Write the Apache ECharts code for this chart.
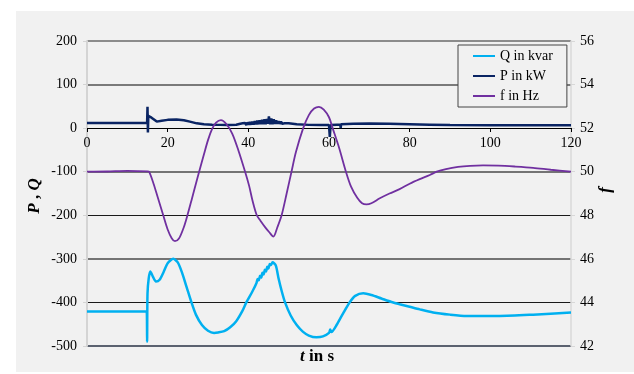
<!DOCTYPE html>
<html>
<head>
<meta charset="utf-8">
<script src="https://cdn.jsdelivr.net/npm/echarts@6/dist/echarts.min.js"></script>
<style>
html,body{margin:0;padding:0;background:#fff;}
#bg{position:absolute;left:16px;top:11px;width:618px;height:361px;background:#f1f1f1;}
#chart{position:absolute;left:0;top:0;width:634px;height:374px;}
</style>
</head>
<body>
<div id="bg"></div>
<div id="chart"></div>
<script>
// ---- data ----
var xTicks = [0, 20, 40, 60, 80, 100, 120];
var leftTicks = [-500, -400, -300, -200, -100, 0, 100, 200];
var rightTicks = [42, 44, 46, 48, 50, 52, 54, 56];

var fTime = [0, 5, 10, 15, 15.4, 16.5, 17.5, 18.9, 20, 21, 21.8, 22.8, 24, 24.9, 26, 27, 27.8, 29, 30, 31, 32, 33.2, 34.5, 36, 37.5, 39.2, 40.2, 41, 42.1, 43, 44.1, 45.2, 46.2, 47.2, 48.25, 49.5, 50.7, 51.8, 53.6, 55, 56.3, 57.5, 58.7, 60, 60.9, 62.5, 64.2, 65.5, 67, 68.2, 69.3, 70.5, 72.6, 75, 77.5, 80, 82.5, 85, 86.7, 89, 92, 95, 98.2, 102, 106, 110.6, 115, 120];
var fHz = [50.0, 50.01, 50.04, 50.02, 50.0, 49.45, 48.85, 48.0, 47.35, 46.95, 46.81, 46.93, 47.45, 48.0, 48.75, 49.45, 50.0, 50.8, 51.45, 51.95, 52.25, 52.37, 52.2, 51.75, 51.0, 50.0, 49.35, 48.7, 48.0, 47.75, 47.47, 47.22, 47.02, 47.45, 48.0, 49.0, 50.0, 50.9, 52.0, 52.6, 52.9, 52.98, 52.85, 52.5, 52.0, 51.1, 50.0, 49.3, 48.8, 48.55, 48.5, 48.55, 48.78, 49.0, 49.2, 49.45, 49.66, 49.85, 50.0, 50.12, 50.22, 50.27, 50.29, 50.28, 50.24, 50.18, 50.09, 50.0];

var pTime = [0, 14.9, 15.0, 15.1, 15.2, 16, 17.3, 18.5, 20, 22.2, 24, 25.5, 27.2, 29, 31, 33, 35, 37, 38, 38.3, 38.6, 38.9, 39.2, 39.5, 39.8, 40.1, 40.4, 40.7, 41, 41.3, 41.6, 41.9, 42.2, 42.5, 42.8, 43.1, 43.4, 43.7, 44, 44.3, 44.6, 44.9, 45.1, 45.4, 45.7, 46, 46.3, 46.6, 46.9, 47.2, 47.5, 47.8, 48.1, 48.4, 48.7, 49, 50, 52, 55, 58, 60, 60.2, 60.4, 62, 62.8, 62.9, 63, 66, 70, 75, 80, 85, 90, 100, 110, 120];
var pKW = [12, 12, 49, -10, 28, 24, 15, 17, 19, 20, 18, 15, 11, 9, 8, 7.5, 7, 8, 10, 7, 11, 7, 12, 7, 13, 8, 14, 8, 15, 8, 16, 9, 17, 9, 18, 9, 19, 9, 20, 9, 21, 10, 27, 9, 22, 9, 20, 10, 18, 10, 16, 10, 15, 10, 13, 11, 11, 9, 7.5, 7, 7, -20, 7, 8, 8, 0, 9, 10, 10.5, 10, 9, 8, 7, 6.5, 6.5, 6.5];

var qTime = [0, 14.8, 14.9, 15.0, 15.3, 15.7, 16.3, 17.1, 18, 19, 20, 21.4, 22.5, 23.5, 24.7, 25.9, 27, 28.5, 30, 31.5, 32.5, 34, 35.5, 37, 38.5, 39.5, 41, 42, 42.3, 42.6, 42.9, 43.2, 43.5, 43.8, 44.1, 44.4, 44.7, 45, 45.3, 45.6, 46, 46.8, 47.5, 48.3, 49.1, 50.5, 52, 53.5, 55, 56.9, 58.5, 60, 60.3, 60.6, 62, 63.5, 65.1, 66.5, 68.5, 70.5, 73, 75.5, 77.5, 80, 82.5, 85.8, 90, 94.1, 102.3, 110.6, 120];
var qKvar = [-421, -421, -490, -380, -345, -329, -340, -352, -348, -330, -310, -300, -308, -330, -365, -400, -428, -452, -465, -470, -469, -466, -457, -443, -420, -400, -375, -356, -346, -349, -339, -343, -332, -336, -325, -329, -318, -322, -312, -314, -308, -315, -345, -375, -400, -430, -452, -467, -476, -480, -478, -470, -462, -468, -450, -425, -400, -385, -379, -383, -391, -399, -404, -410, -416, -423, -428, -431, -431, -428, -423];

function zip(a, b) { return a.map(function (v, i) { return [v, b[i]]; }); }

var serif = 'Liberation Serif';
var chart = echarts.init(document.getElementById('chart'), null, { renderer: 'canvas' });
chart.setOption({
  animation: false,
  backgroundColor: 'transparent',
  grid: { left: 87, right: 63, top: 41, bottom: 28, containLabel: false },
  legend: {
    data: ['Q in kvar', 'P in kW', 'f in Hz'],
    orient: 'vertical',
    left: 458, top: 45,
    backgroundColor: '#f1f1f1',
    borderColor: '#444', borderWidth: 1, borderRadius: 0,
    padding: [4, 14, 4, 15],
    icon: 'rect', itemWidth: 22, itemHeight: 2, itemGap: 6,
    textStyle: { fontFamily: serif, fontSize: 14, color: '#000', lineHeight: 12 }
  },
  xAxis: {
    type: 'value', min: 0, max: 120, interval: 20, position: 'bottom', offset: -218,
    axisLine: { onZero: false, lineStyle: { color: '#000', width: 1 } },
    axisTick: { show: true, length: 4, lineStyle: { color: '#000' } },
    axisLabel: { fontFamily: serif, fontSize: 14, color: '#000', margin: 8,
      formatter: function (v) { return xTicks.indexOf(v) >= 0 ? String(v) : ''; } },
    splitLine: { show: false }
  },
  yAxis: [{
    type: 'value', min: -500, max: 200, interval: 100, position: 'left',
    axisLine: { show: true, lineStyle: { color: '#d4d4d4', width: 2 } },
    axisTick: { show: true, length: 4, lineStyle: { color: '#d4d4d4' } },
    axisLabel: { fontFamily: serif, fontSize: 14, color: '#000', margin: 10,
      formatter: function (v) { return leftTicks.indexOf(v) >= 0 ? String(v) : ''; } },
    splitLine: { show: true, lineStyle: { width: 1,
      color: ['transparent', '#1a1a1a', 'transparent', '#1a1a1a', 'transparent', 'transparent', 'transparent', 'transparent'] } }
  }, {
    type: 'value', min: 42, max: 56, interval: 2, position: 'right',
    axisLine: { show: true, lineStyle: { color: '#d8d8d8', width: 1.5 } },
    axisTick: { show: true, length: 4, lineStyle: { color: '#d8d8d8' } },
    axisLabel: { fontFamily: serif, fontSize: 14, color: '#000', margin: 9,
      formatter: function (v) { return rightTicks.indexOf(v) >= 0 ? String(v) : ''; } },
    splitLine: { show: true, lineStyle: { width: 2,
      color: ['#5b6270', 'transparent', '#747474', 'transparent', '#747474', 'transparent', '#7a7a7a', '#8c8c8c'] } }
  }],
  graphic: [
    { type: 'text', left: 'center', top: 348, style: { rich: {
        a: { fontFamily: serif, fontSize: 17, fontWeight: 'bold', fontStyle: 'italic', fill: '#000' },
        b: { fontFamily: serif, fontSize: 17, fontWeight: 'bold', fill: '#000' } },
        text: '{a|t}{b| in s}' } },
    { type: 'text', x: 35, y: 196, rotation: Math.PI / 2, style: { rich: {
        a: { fontFamily: serif, fontSize: 17, fontWeight: 'bold', fontStyle: 'italic', fill: '#000' },
        b: { fontFamily: serif, fontSize: 17, fontWeight: 'bold', fill: '#000' } },
        text: '{a|P}{b| , }{a|Q}', align: 'center', verticalAlign: 'middle' } },
    { type: 'text', x: 606, y: 190, rotation: Math.PI / 2, style: {
        text: 'f', fontFamily: serif, fontSize: 17, fontWeight: 'bold', fontStyle: 'italic', fill: '#000',
        align: 'center', verticalAlign: 'middle' } }
  ],
  series: [{
    name: 'Q in kvar', type: 'line', yAxisIndex: 0, data: zip(qTime, qKvar),
    symbol: 'none', smooth: 0.25, lineStyle: { color: '#00b0f0', width: 2.5 }, itemStyle: { color: '#00b0f0' }, z: 3
  }, {
    name: 'P in kW', type: 'line', yAxisIndex: 0, data: zip(pTime, pKW),
    symbol: 'none', smooth: false, lineStyle: { color: '#0a2463', width: 2.5 }, itemStyle: { color: '#0a2463' }, z: 4
  }, {
    name: 'f in Hz', type: 'line', yAxisIndex: 1, data: zip(fTime, fHz),
    symbol: 'none', smooth: 0.3, lineStyle: { color: '#7030a0', width: 1.8 }, itemStyle: { color: '#7030a0' }, z: 5
  }]
});
</script>
</body>
</html>
